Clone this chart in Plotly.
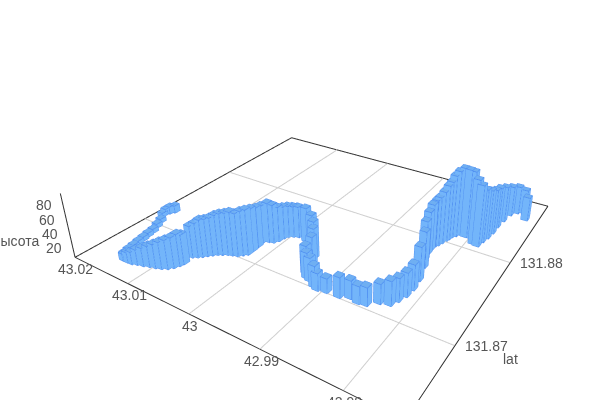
import numpy as np
import plotly.graph_objects as go

lon = [43.01795,43.01833,43.01860,43.01856,43.01754,43.01698,43.01642,43.01623,43.01600,43.01581,43.01558,43.01540,43.01500,
43.01440,43.01370,43.01300,43.01233,43.01149,43.01070,43.00991,43.00917,43.00851,43.00805,43.00777,43.00763,
43.00777,43.00721,43.00679,43.00638,43.00596,43.00549,43.00498,43.00442,43.00382,43.00317,43.00275,43.00233,43.00233,43.00238,43.00252,43.00191,43.00131,43.00098,43.00080,43.00047,42.99996,42.99931,
42.99782,42.99642,42.99545,42.99480,42.99438,42.99377,42.99312,42.99247,42.99140,42.99080,
42.98968,42.98796,42.98680,42.98559,42.98466,42.98359,42.98243,42.98201,42.98164,42.98154,
42.98173,42.98238,42.98299,42.98326,42.98331,42.98326,42.98303,42.98280,42.98257,42.98243,42.98229,42.98196,42.98150,42.98075,42.98020,42.97922,42.97861,42.97843,42.97820,42.97806,42.97806,42.97787,42.97759,42.97694,42.97610,42.97531]
lat = [131.87221,131.87187,131.87158,131.87121,131.87048,131.86980,131.86911,131.86851,131.86793,131.86736,131.86680,131.86625,131.86570,
131.86541,131.86541,131.86544,131.86560,131.86573,131.86589,131.86602,131.86618,131.86641,131.86673,131.86712,131.86743,
131.86838,131.86859,131.86882,131.86909,131.86935,131.86961,131.86980,131.87001,131.87014,131.87027,131.87056,131.87082,131.87137,131.87200,131.87265,131.87297,131.87310,131.87347,131.87397,131.87433,131.87457,131.87473,
131.87457,131.87412,131.87355,131.87302,131.87244,131.87124,131.87082,131.87066,131.87027,131.87011,
131.87024,131.87027,131.87058,131.87042,131.87053,131.87116,131.87137,131.87200,131.87273,131.87362,
131.87473,131.87627,131.87719,131.87801,131.87861,131.87924,131.87947,131.87989,131.88031,131.88068,131.88107,131.88136,131.88170,131.88165,131.88168,131.88105,131.88094,131.88168,131.88239,131.88328,131.88433,131.88548,131.88669,131.88732,131.88761,131.88661]
height = [17,17,15,12,12,12,12,12,12,12,12,12,13,
16,21,24,28,32,36,40,44,47,49,51,48,
51,55,59,59,60,63,65,66,68,67,69,70,67,63,60,63,61,56,53,52,51,51,
55,53,52,49,44,45,42,39,36,30,
26,34,31,30,31,33,39,38,39,41,
53,57,61,66,71,72,75,80,86,89,95,100,103,103,102,98,93,82,76,70,65,58,50,47,42,41]
lon_ticks = [43.02,43.01,43.0,42.99,42.98]
lon_labels = ["43.02","43.01","43","42.99","42.98"]
lat_ticks = [131.87,131.88]
lat_labels = ["131.87","131.88"]
z_ticks = [20,40,60,80]
LON_R = [43.02,42.9735]
LAT_R = [131.8635,131.8897]
Z_R = [6,105]
Z_AXIS_TOP = 95
HW_LON, HW_LAT = 0.00046, 0.00028

# Axes are drawn in offset units so the 32-bit GL coordinates keep their precision.
LON0, LAT0 = 43.0, 131.87
def X(v): return (np.asarray(v,float)-LON0)*100
def Y(v): return (np.asarray(v,float)-LAT0)*100

W, H, LEFT, TOP = 1000, 498, 149, 98
post=("var g=document.getElementById('{plot_id}');document.documentElement.style.overflow='hidden';"
"document.body.style.margin='0';document.body.style.overflow='hidden';g.style.position='absolute';"
"g.style.left='-%dpx';g.style.top='-%dpx';")%(LEFT,TOP)

vx,vy,vz,I,J_,K=[],[],[],[],[],[]
ex,ey,ez=[],[],[]
z0=Z_R[0]
zf=z0+0.15   # floor lines sit just inside the clip box
faces=[(0,1,2),(0,2,3),(4,5,6),(4,6,7),(0,1,5),(0,5,4),(1,2,6),(1,6,5),(2,3,7),(2,7,6),(3,0,4),(3,4,7)]
for a,b,h in zip(X(lon),Y(lat),height):
    n=len(vx)
    dx=HW_LON*100;dy=HW_LAT*100
    xs=[float(a-dx),float(a+dx),float(a+dx),float(a-dx)]
    ys=[float(b-dy),float(b-dy),float(b+dy),float(b+dy)]
    vx+=xs+xs;vy+=ys+ys;vz+=[zf]*4+[h]*4
    for f in faces:
        I.append(n+f[0]);J_.append(n+f[1]);K.append(n+f[2])
    ex+=xs+[xs[0],None];ey+=ys+[ys[0],None];ez+=[h]*5+[None]
    for i in range(4):
        ex+=[xs[i],xs[i],None];ey+=[ys[i],ys[i],None];ez+=[zf,h,None]
    ex+=xs+[xs[0],None];ey+=ys+[ys[0],None];ez+=[zf]*5+[None]

fig=go.Figure()
GRID="#cfcfcf";AX="#333333"
xr=[float(v) for v in X(LON_R)];yr=[float(v) for v in Y(LAT_R)]
ix=0.002*(xr[1]-xr[0]);iy=0.002*(yr[1]-yr[0])
xa,xb=xr[0]+ix,xr[1]-ix
ya,yb=yr[0]+iy,yr[1]-iy
def seg(x,y,z,color):
    fig.add_trace(go.Scatter3d(x=x,y=y,z=z,mode="lines",line=dict(color=color,width=2),hoverinfo="skip",showlegend=False))
for t in X(lon_ticks[1:]):
    seg([float(t)]*2,[ya,yb],[zf,zf],GRID)
for t in Y(lat_ticks):
    seg([xa,xb],[float(t)]*2,[zf,zf],GRID)
seg([xa,xa],[ya,yb],[zf,zf],AX)
seg([xa,xb],[yb,yb],[zf,zf],AX)
seg([xb,xb],[yb,ya],[zf,zf],AX)
seg([xb,xa],[ya,ya],[zf,zf],AX)
seg([xa,xa],[ya,ya],[zf,Z_AXIS_TOP],AX)
fig.add_trace(go.Mesh3d(x=vx,y=vy,z=vz,i=I,j=J_,k=K,color="rgb(117,184,255)",flatshading=True,
    lighting=dict(ambient=0.95,diffuse=0.1,specular=0,roughness=1,fresnel=0),hoverinfo="skip"))
fig.add_trace(go.Scatter3d(x=ex,y=ey,z=ez,mode="lines",line=dict(color="rgb(74,138,240)",width=1.5),hoverinfo="skip",showlegend=False,connectgaps=False))

tf=dict(family="Liberation Sans, Arial",size=14,color="#555555")
ann=[]
for t,l in zip(X(lon_ticks),lon_labels):
    ann.append(dict(x=float(t),y=yr[0],z=z0,text=l,showarrow=False,font=tf,xanchor="center",yanchor="middle",xshift=2,yshift=-11))
for t,l in zip(Y(lat_ticks),lat_labels):
    ann.append(dict(x=xr[1],y=float(t),z=z0,text=l,showarrow=False,font=tf,xanchor="center",yanchor="middle",xshift=31))
for t in z_ticks:
    ann.append(dict(x=xr[0],y=yr[0],z=t,text=str(t),showarrow=False,font=tf,xanchor="center",yanchor="middle",xshift=-18))
ann.append(dict(x=xr[0],y=yr[0],z=30,text="высота",showarrow=False,font=tf,xanchor="right",yanchor="middle",xshift=-29))
ann.append(dict(x=xr[1],y=float(Y(131.87)),z=z0,text="lat",showarrow=False,font=tf,xanchor="center",yanchor="middle",xshift=55,yshift=-13))

common=dict(showgrid=False,zeroline=False,showbackground=False,showspikes=False,showline=False,ticks="",showticklabels=False,title=dict(text=""))
fig.update_layout(width=W,height=H,margin=dict(l=0,r=0,t=0,b=0),paper_bgcolor="white",showlegend=False,
  scene=dict(domain=dict(x=[0,1],y=[0,1]),aspectmode="manual",aspectratio=dict(x=1,y=0.9566,z=0.2175),
    camera=dict(eye=dict(x=0.8477,y=-1.2186,z=0.8266),center=dict(x=0.0040,y=0.1163,z=0.0986),up=dict(x=0.0020,y=0.0012,z=1)),
    xaxis=dict(common,range=xr),
    yaxis=dict(common,range=yr),
    zaxis=dict(common,range=Z_R),annotations=ann))
fig.write_html("out.html",config=dict(displayModeBar=False),post_script=post)
